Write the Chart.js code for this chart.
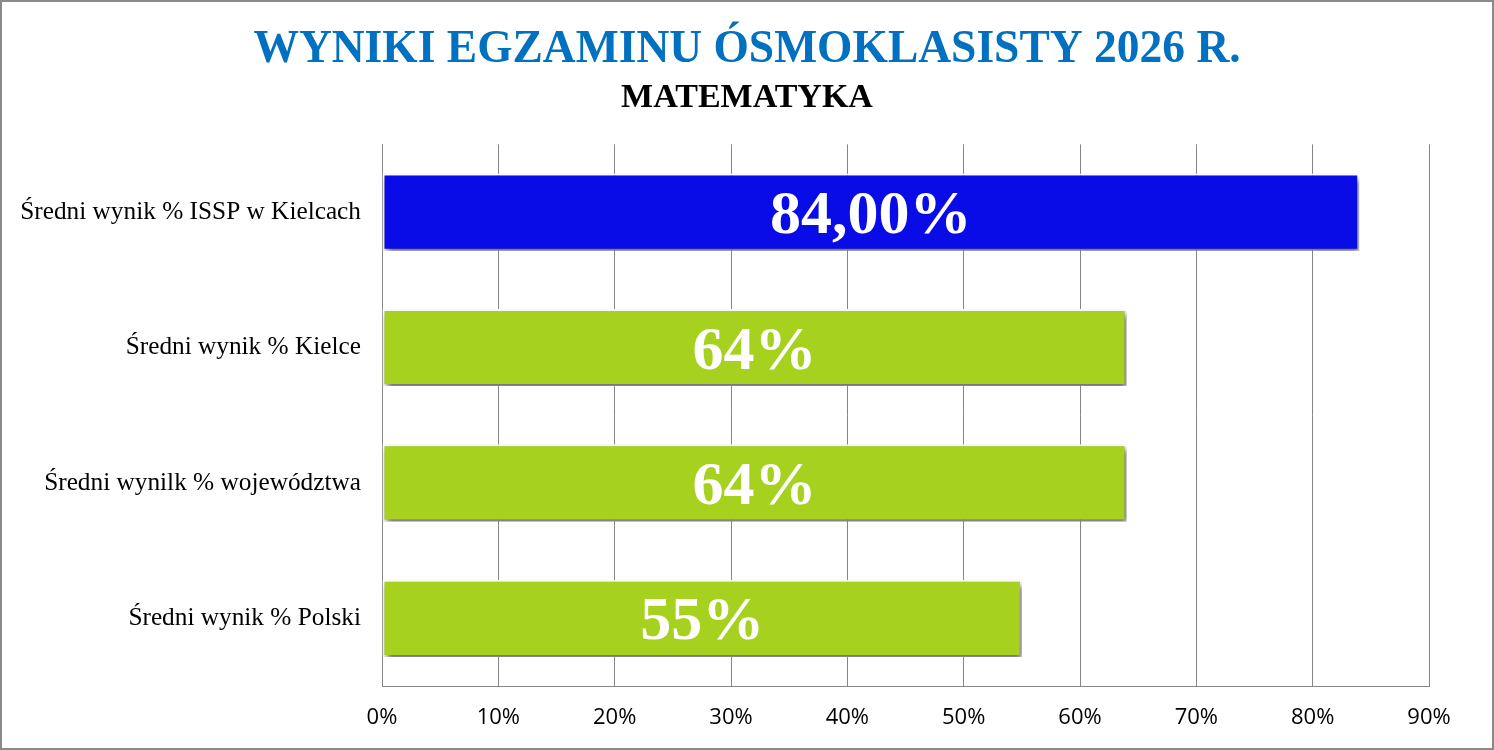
<!DOCTYPE html>
<html>
<head>
<meta charset="utf-8">
<script src="https://cdn.jsdelivr.net/npm/chart.js@4.4.1/dist/chart.umd.min.js"></script>
<style>
html,body{margin:0;padding:0;background:#fff;}
#wrap{width:1494px;height:750px;position:relative;}
</style>
</head>
<body>
<div id="wrap"><canvas id="c"></canvas></div>
<script>
const categories = [
  'Średni wynik % ISSP w Kielcach',
  'Średni wynik % Kielce',
  'Średni wynilk % województwa',
  'Średni wynik % Polski'
];
const values = [84, 64, 64, 55];
const valueLabels = ['84,00%', '64%', '64%', '55%'];
const barColors = ['#0a0ce8', '#a6d11f', '#a6d11f', '#a6d11f'];
const xTicks = [0, 10, 20, 30, 40, 50, 60, 70, 80, 90];
const titleText = 'WYNIKI EGZAMINU ÓSMOKLASISTY 2026 R.';
const subtitleText = 'MATEMATYKA';

const frame = {
  id: 'frame',
  beforeDraw(chart) {
    const ctx = chart.ctx;
    ctx.save();
    ctx.fillStyle = '#ffffff';
    ctx.fillRect(0, 0, chart.width, chart.height);
    ctx.strokeStyle = '#8a8a8a';
    ctx.lineWidth = 2;
    ctx.strokeRect(1, 1, chart.width - 2, chart.height - 2);
    ctx.restore();
  }
};

const barShadow = {
  id: 'barShadow',
  beforeDatasetDraw(chart) {
    const ctx = chart.ctx;
    ctx.save();
    ctx.shadowColor = 'rgba(0,0,0,0.6)';
    ctx.shadowBlur = 6;
    ctx.shadowOffsetX = 2;
    ctx.shadowOffsetY = 4;
  },
  afterDatasetDraw(chart) {
    chart.ctx.restore();
  }
};

const valueText = {
  id: 'valueText',
  afterDatasetsDraw(chart) {
    const ctx = chart.ctx;
    const meta = chart.getDatasetMeta(0);
    ctx.save();
    ctx.fillStyle = '#ffffff';
    ctx.font = 'bold 62px "Liberation Serif", "Times New Roman", serif';
    ctx.textAlign = 'center';
    ctx.textBaseline = 'middle';
    meta.data.forEach((bar, i) => {
      const cx = (bar.base + bar.x) / 2;
      ctx.fillText(valueLabels[i], cx, bar.y + 5);
    });
    ctx.restore();
  }
};

new Chart(document.getElementById('c'), {
  type: 'bar',
  data: {
    labels: categories,
    datasets: [{
      data: values,
      backgroundColor: barColors,
      borderColor: '#ffffff',
      borderWidth: 2,
      borderSkipped: false,
      barPercentage: 0.57,
      categoryPercentage: 1
    }]
  },
  options: {
    indexAxis: 'y',
    responsive: true,
    maintainAspectRatio: false,
    animation: false,
    devicePixelRatio: 1,
    layout: { padding: { top: 0, right: 0, bottom: 0, left: 0 } },
    plugins: {
      legend: { display: false },
      tooltip: { enabled: false },
      title: {
        display: true,
        text: titleText,
        color: '#0070c0',
        font: { family: '"Liberation Serif", "Times New Roman", serif', size: 45.5, weight: 'bold', lineHeight: 1.2 },
        padding: { top: 23, bottom: 0 }
      },
      subtitle: {
        display: true,
        text: subtitleText,
        color: '#000000',
        font: { family: '"Liberation Serif", "Times New Roman", serif', size: 34, weight: 'bold', lineHeight: 1.2 },
        padding: { top: 0, bottom: 26 }
      }
    },
    scales: {
      x: {
        type: 'linear',
        min: 0,
        max: 90,
        afterBuildTicks(scale) { scale.ticks = xTicks.map(v => ({ value: v })); },
        afterFit(scale) { scale.height = 64; },
        ticks: {
          color: '#000000',
          padding: 19,
          font: { family: '"Open Sans", "Liberation Sans", sans-serif', size: 22 },
          callback: v => v + '%'
        },
        grid: { color: '#868686', lineWidth: 1, drawTicks: false },
        border: { color: '#868686', width: 1 }
      },
      y: {
        afterFit(scale) { scale.width = 382; },
        ticks: {
          color: '#000000',
          padding: 21,
          font: { family: '"Liberation Serif", "Times New Roman", serif', size: 25.3 }
        },
        grid: { display: false, drawTicks: false },
        border: { color: '#868686', width: 1 }
      },
      yRight: {
        type: 'category',
        labels: categories,
        position: 'right',
        afterFit(scale) { scale.width = 65; },
        ticks: { display: false },
        grid: { display: false, drawTicks: false },
        border: { display: false }
      }
    }
  },
  plugins: [frame, barShadow, valueText]
});
</script>
</body>
</html>
